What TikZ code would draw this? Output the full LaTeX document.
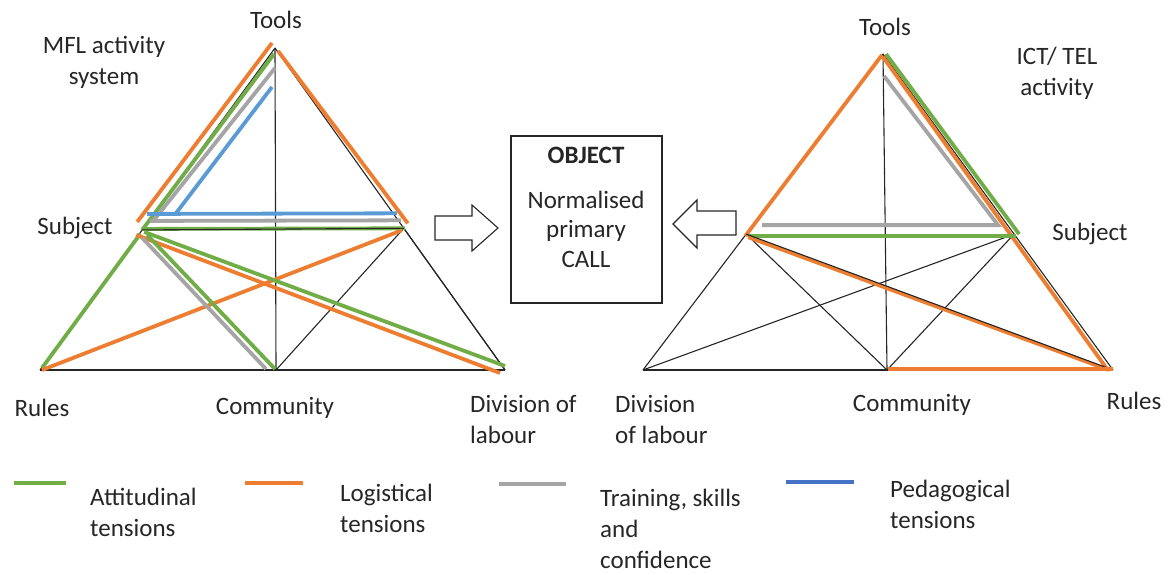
\documentclass[tikz,border=0pt]{standalone}
\usepackage{fontspec}
\setmainfont{Carlito}
\usetikzlibrary{calc}
\definecolor{attgreen}{HTML}{70AD47}
\definecolor{logorange}{HTML}{ED7D31}
\definecolor{skillgray}{HTML}{A5A5A5}
\definecolor{pedblue}{HTML}{5B9BD5}
\definecolor{pedbluekey}{HTML}{4472C4}
\begin{document}
\begin{tikzpicture}[x=1pt,y=-1pt,
  edge/.style={draw=black!85, line width=1.1pt},
  tensionline/.style={line width=3.8pt},
  att/.style={tensionline, draw=attgreen},
  logi/.style={tensionline, draw=logorange},
  skill/.style={tensionline, draw=skillgray},
  peda/.style={tensionline, draw=pedblue},
  lbl/.style={font=\fontsize{25}{31}\selectfont, inner sep=0pt, text=black!85},
  blockarrow/.style={draw=black!85, line width=1.1pt, fill=white, line join=miter},
]
\useasboundingbox (0,0) rectangle (1172,575);

% ---------------- MFL activity system ----------------
\coordinate (T1) at (275,48);
\coordinate (R1) at (40,370);
\coordinate (D1) at (505,370);
\coordinate (C1) at (276,370);
\coordinate (S1) at ($(T1)!0.565!(R1)$);
\coordinate (O1) at ($(T1)!0.56!(D1)$);

\draw[edge] (T1) -- (C1);
\draw[edge] (R1) -- (D1);
\draw[edge] (O1) -- (C1);
\draw[edge] (O1) -- (D1);
\draw[edge] (T1) -- (R1);
\draw[edge] (T1) -- (D1);

% tensions between tools, subject and object
\draw[logi] ($(T1)+(-3,-5)$) -- ($(S1)+(-5,-8)$);
\draw[att]  ($(T1)+(-1,6)$) -- ($(S1)+(0,0)$);
\draw[skill] ($(T1)+(0,20)$) -- ($(S1)+(11,-9)$);
\draw[peda] ($(T1)+(-3,39)$) -- ($(S1)+(34,-17)$);
\draw[logi] ($(T1)+(3,3)$) -- ($(O1)+(4,-5)$);
\draw[peda] ($(S1)+(5,-16)$) -- ($(O1)+(-7,-15)$);
\draw[skill] ($(S1)+(8,-9)$) -- ($(O1)+(-3,-8)$);
\draw[att] ($(S1)+(0,-1)$) -- ($(O1)+(1,0)$);
\draw[edge] (S1) -- (O1);

% tensions reaching the base
\draw[att] ($(S1)+(-2,4)$) -- ($(R1)+(2,-2)$);
\draw[logi] ($(R1)+(2,0)$) -- ($(O1)+(-2,2)$);
\draw[logi] ($(S1)+(-6,5)$) -- ($(D1)+(-5,3)$);
\draw[att] ($(S1)+(2,2)$) -- ($(D1)+(0,-4)$);
\draw[skill] ($(S1)+(0,8)$) -- ($(C1)+(-10,-1)$);
\draw[att] ($(S1)+(5,5)$) -- ($(C1)+(-1,-1)$);

\node[lbl] (toolsA) at (276,20) {Tools};
\node[lbl, align=center] (mfl) at (104,62) {MFL activity\\system};
\node[lbl] (subjA) at (75,228) {Subject};
\node[lbl] (rulesA) at (42,408) {Rules};
\node[lbl] (commA) at (275,408) {Community};
\node[lbl, align=left, anchor=west] (divA) at (470,419) {Division of\\labour};

% ---------------- object ----------------
\node[draw=black!85, line width=1.1pt, minimum width=151pt, minimum height=167pt, inner sep=0pt]
  (obj) at (586.5,219.5) {};
\node[lbl, font=\fontsize{25}{31}\bfseries] (objtitle) at (586,155) {OBJECT};
\node[lbl, align=center, font=\fontsize{25}{29.5}\selectfont] (objtext) at (586,229) {Normalised\\primary\\CALL};

\draw[blockarrow] (435,216) -- (472,216) -- (472,205) -- (498,228) -- (472,251) -- (472,240) -- (435,240) -- cycle;
\draw[blockarrow] (736,211) -- (697,211) -- (697,200) -- (673,224) -- (697,248) -- (697,235) -- (736,235) -- cycle;

% ---------------- ICT / TEL activity ----------------
\coordinate (T2) at (883,54);
\coordinate (D2) at (643,370);
\coordinate (R2) at (1113,370);
\coordinate (C2) at (887,370);
\coordinate (L2) at ($(T2)!0.57!(D2)$);
\coordinate (S2) at ($(T2)!0.57!(R2)$);

\draw[edge] (T2) -- (C2);
\draw[edge] (D2) -- (R2);
\draw[edge] (T2) -- (D2);
\draw[edge] (T2) -- (R2);
\draw[edge] (L2) -- (C2);
\draw[edge] (D2) -- (S2);
\draw[edge] (S2) -- (C2);

\draw[logi] ($(T2)+(-1,1)$) -- ($(L2)+(-1,2)$);
\draw[att] ($(T2)+(3,0)$) -- ($(S2)+(5,0)$);
\draw[logi] ($(T2)+(0,3)$) -- ($(R2)+(-6,-1)$);
\draw[skill] ($(T2)+(1,22)$) -- ($(S2)+(-16,-9)$) -- ($(L2)+(16,-9)$);
\draw[att] ($(L2)+(2,2)$) -- ($(S2)+(2,2)$);
\draw[logi] ($(L2)+(2,3)$) -- ($(R2)+(-4,0)$);
\draw[edge] (L2) -- (R2);
\draw[logi] ($(C2)+(1,-1)$) -- ($(R2)+(0,-1)$);

\node[lbl] (toolsB) at (885,27) {Tools};
\node[lbl, align=center] (ict) at (1057,73) {ICT/ TEL\\activity};
\node[lbl] (subjB) at (1090,234) {Subject};
\node[lbl, align=left, anchor=west] (divB) at (615,419) {Division\\of labour};
\node[lbl] (commB) at (912,405) {Community};
\node[lbl] (rulesB) at (1134,401) {Rules};

% ---------------- key ----------------
\coordinate (k1a) at (14,483);  \coordinate (k1b) at (66,483);
\coordinate (k2a) at (245,483); \coordinate (k2b) at (303,483);
\coordinate (k3a) at (499,484); \coordinate (k3b) at (566,484);
\coordinate (k4a) at (786,482); \coordinate (k4b) at (854,482);
\draw[att, line width=4.5pt] (k1a) -- (k1b);
\draw[logi, line width=4.5pt] (k2a) -- (k2b);
\draw[skill, line width=4.5pt] (k3a) -- (k3b);
\draw[tensionline, draw=pedbluekey, line width=4.5pt] (k4a) -- (k4b);
\node[lbl, align=left, anchor=west] (key1) at (90,512) {Attitudinal\\tensions};
\node[lbl, align=left, anchor=west] (key2) at (340,508) {Logistical\\tensions};
\node[lbl, align=left, anchor=west] (key3) at (600,529) {Training, skills\\and\\confidence};
\node[lbl, align=left, anchor=west] (key4) at (890,504) {Pedagogical\\tensions};
\end{tikzpicture}
\end{document}
